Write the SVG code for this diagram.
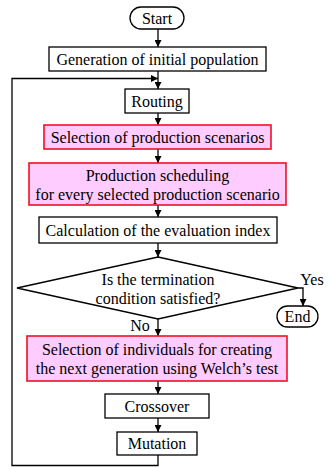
<svg xmlns="http://www.w3.org/2000/svg" width="329" height="467" viewBox="0 0 329 467">
<style>
text{font-family:"Liberation Serif","Times New Roman",serif;font-size:16px;fill:#000;text-anchor:middle}
.b{fill:#fff;stroke:#000;stroke-width:1.3}
.p{fill:#ffccff;stroke:#ee1122;stroke-width:1.6}
.c{fill:none;stroke:#000;stroke-width:1.3}
</style>
<defs>
<marker id="a" viewBox="0 0 10 10" refX="10" refY="5" markerWidth="7" markerHeight="7" markerUnits="userSpaceOnUse" orient="auto">
<path d="M0,0L10,5L0,10z" fill="#000"/>
</marker>
</defs>
<rect width="329" height="467" fill="#fff"/>
<g id="connectors">
<path class="c" d="M158,29V47" marker-end="url(#a)"/>
<path class="c" d="M158,71V89" marker-end="url(#a)"/>
<path class="c" d="M158,113V125" marker-end="url(#a)"/>
<path class="c" d="M158,149V163" marker-end="url(#a)"/>
<path class="c" d="M158,205V217" marker-end="url(#a)"/>
<path class="c" d="M158,243V257" marker-end="url(#a)"/>
<path class="c" d="M158,319V336" marker-end="url(#a)"/>
<path class="c" d="M298,288H303V306" marker-end="url(#a)"/>
<path class="c" d="M158,381V394" marker-end="url(#a)"/>
<path class="c" d="M158,418V432" marker-end="url(#a)"/>
<path class="c" d="M158,455V465.5H12V78.5H158" marker-end="url(#a)"/>
</g>
<g id="start"><rect class="b" x="130" y="7" width="54" height="22" rx="11"/><text x="157" y="24">Start</text></g>
<g id="init"><rect class="b" x="49" y="47" width="217" height="24"/><text x="157.5" y="65">Generation of initial population</text></g>
<g id="routing"><rect class="b" x="125" y="89" width="64" height="24"/><text x="157" y="107">Routing</text></g>
<g id="selscen"><rect class="p" x="44" y="125" width="227" height="24"/><text x="157.5" y="143">Selection of production scenarios</text></g>
<g id="sched"><rect class="p" x="29" y="163" width="257" height="42"/><text x="157.5" y="181">Production scheduling</text><text x="157.5" y="200">for every selected production scenario</text></g>
<g id="calc"><rect class="b" x="39" y="217" width="238" height="26"/><text x="158" y="236">Calculation of the evaluation index</text></g>
<g id="cond"><path class="b" d="M158,257L298,288L158,319L17,288z"/><text x="158" y="285">Is the termination</text><text x="158" y="304">condition satisfied?</text></g>
<g id="end"><rect class="b" x="277" y="306" width="41" height="21" rx="10.5"/><text x="297.5" y="322">End</text></g>
<text x="312" y="285">Yes</text>
<text x="140" y="331">No</text>
<g id="selind"><rect class="p" x="27" y="336" width="260" height="45"/><text x="157" y="355">Selection of individuals for creating</text><text x="157" y="374">the next generation using Welch’s test</text></g>
<g id="cross"><rect class="b" x="105" y="394" width="104" height="24"/><text x="157" y="412">Crossover</text></g>
<g id="mut"><rect class="b" x="117" y="432" width="80" height="23"/><text x="157" y="449">Mutation</text></g>
</svg>
